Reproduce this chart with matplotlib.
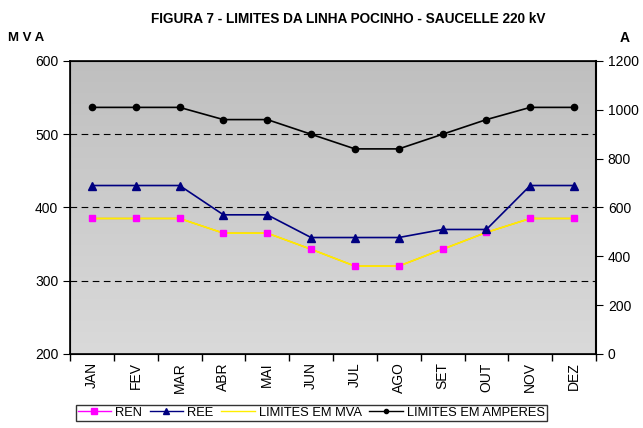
import numpy as np
import matplotlib
matplotlib.use('Agg')
import matplotlib.pyplot as plt
from matplotlib.colors import LinearSegmentedColormap
from matplotlib.lines import Line2D

plt.rcParams['font.family'] = ['Liberation Sans', 'DejaVu Sans']

meses = ['JAN', 'FEV', 'MAR', 'ABR', 'MAI', 'JUN', 'JUL', 'AGO', 'SET', 'OUT', 'NOV', 'DEZ']
ren = [385, 385, 385, 365, 365, 343, 320, 320, 343, 366, 385, 385]
ree = [430, 430, 430, 390, 390, 359, 359, 359, 370, 370, 430, 430]
lim_mva = [385, 385, 385, 365, 365, 343, 320, 320, 343, 366, 385, 385]
lim_amp = [1010, 1010, 1010, 960, 960, 900, 840, 840, 900, 960, 1010, 1010]

fig = plt.figure(figsize=(6.43, 4.28), dpi=100)
ax = fig.add_axes([0.1089, 0.1729, 0.818, 0.6846])
x = np.arange(len(meses))

# fundo em gradiente cinzento
cmap = LinearSegmentedColormap.from_list('g', ['#dadada', '#bfbfbf'])
grad = np.linspace(0, 1, 256).reshape(-1, 1)
ax.imshow(grad, extent=[0, 1, 0, 1], transform=ax.transAxes, aspect='auto',
          cmap=cmap, origin='lower', zorder=0)

for v in [300, 400, 500]:
    ax.axhline(v, color='black', lw=0.8, ls=(0, (6, 4)), zorder=1)

ax.plot(x, ren, color='#ff9900', lw=1.0, zorder=2)
ax.plot(x, lim_mva, color='#ffee00', lw=1.2, zorder=3)
ax.plot(x, ren, ls='none', marker='s', ms=5, color='magenta', zorder=4)
ax.plot(x, ree, color='navy', lw=1.2, marker='^', ms=6, zorder=4)

ax.set_xlim(-0.5, 11.5)
ax.set_ylim(200, 600)
ax.set_yticks([200, 300, 400, 500, 600])
ax.set_xticks(x)
ax.set_xticklabels(meses, rotation=90, fontsize=10)
ax.set_xticks(np.arange(-0.5, 12, 1), minor=True)
ax.tick_params(axis='x', which='major', length=0, pad=6)
ax.tick_params(axis='x', which='minor', length=5, width=1, direction='out')
ax.tick_params(axis='y', labelsize=10, length=5, direction='out')
for s in ax.spines.values():
    s.set_linewidth(1.2)

ax2 = ax.twinx()
ax2.plot(x, lim_amp, color='black', lw=1.2, marker='o', ms=4.5, zorder=4)
ax2.set_ylim(0, 1200)
ax2.set_yticks(range(0, 1201, 200))
ax2.tick_params(axis='y', labelsize=10, length=5, direction='out')
ax2.spines['right'].set_linewidth(1.5)

fig.text(0.542, 0.955, 'FIGURA 7 - LIMITES DA LINHA POCINHO - SAUCELLE 220 kV',
         ha='center', va='center', fontsize=9.8, fontweight='bold')
fig.text(0.012, 0.912, 'M V A', ha='left', va='center', fontsize=9.5, fontweight='bold')
fig.text(0.963, 0.912, 'A', ha='left', va='center', fontsize=10, fontweight='bold')

h = [Line2D([], [], color='magenta', marker='s', ms=4, lw=1),
     Line2D([], [], color='navy', marker='^', ms=4, lw=1),
     Line2D([], [], color='#ffee00', lw=1),
     Line2D([], [], color='black', marker='o', ms=3, lw=1)]
leg = fig.legend(h, ['REN', 'REE', 'LIMITES EM MVA', 'LIMITES EM AMPERES'],
                 loc='upper center', bbox_to_anchor=(0.484, 0.054), ncol=4,
                 fontsize=9.3, frameon=True, fancybox=False, handlelength=2.6,
                 columnspacing=0.6, handletextpad=0.3, borderpad=0.15,
                 borderaxespad=0)
leg.get_frame().set_edgecolor('black')
leg.get_frame().set_linewidth(1)

fig.savefig('out.png', dpi=100)
